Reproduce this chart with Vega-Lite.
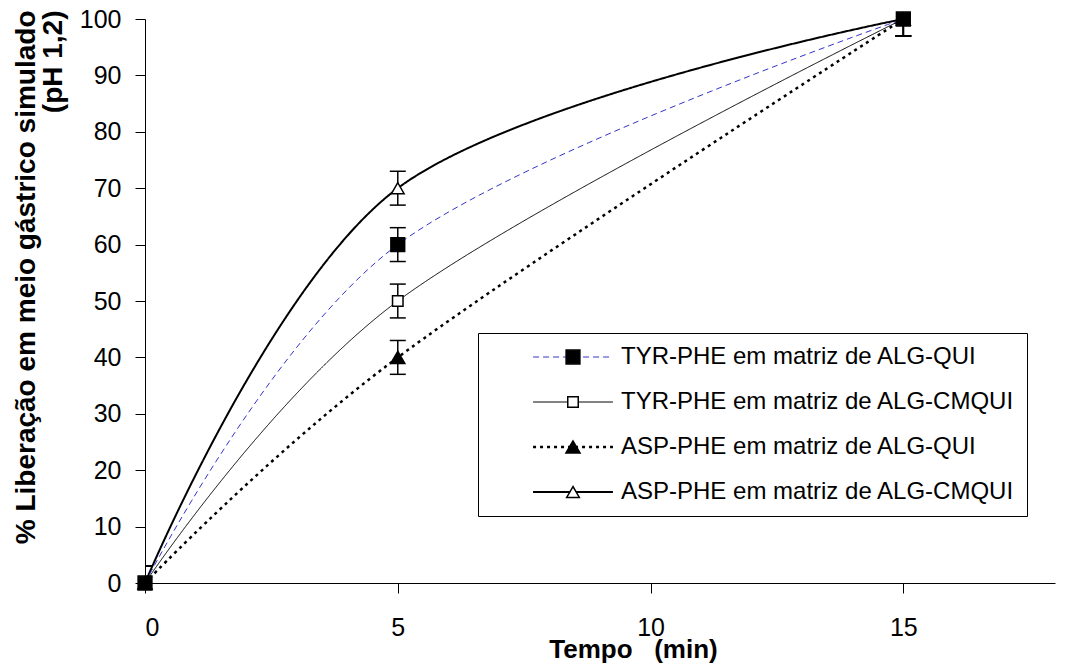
{
  "$schema": "https://vega.github.io/schema/vega-lite/v6.json",
  "width": 910,
  "height": 564,
  "autosize": "none",
  "padding": {"left": 145, "top": 19, "right": 28, "bottom": 84},
  "background": "white",
  "config": {
    "view": {"stroke": null},
    "font": "Liberation Sans",
    "axis": {
      "grid": false,
      "domainColor": "black",
      "domainWidth": 1,
      "tickColor": "black",
      "tickWidth": 1,
      "tickSize": 10,
      "labelColor": "black",
      "titleColor": "black",
      "labelFont": "Liberation Sans",
      "titleFont": "Liberation Sans",
      "labelFontSize": 25,
      "titleFontSize": 26,
      "titleFontWeight": "bold"
    }
  },
  "data": {
    "values": [
      {"series": "ASP-PHE em matriz de ALG-CMQUI", "t": 0, "y": 0, "lo": -3, "hi": 3},
      {"series": "ASP-PHE em matriz de ALG-CMQUI", "t": 5, "y": 70, "lo": 67, "hi": 73},
      {"series": "ASP-PHE em matriz de ALG-CMQUI", "t": 15, "y": 100, "lo": 97, "hi": 103},
      {"series": "ASP-PHE em matriz de ALG-QUI", "t": 0, "y": 0, "lo": -3, "hi": 3},
      {"series": "ASP-PHE em matriz de ALG-QUI", "t": 5, "y": 40, "lo": 37, "hi": 43},
      {"series": "ASP-PHE em matriz de ALG-QUI", "t": 15, "y": 100, "lo": 97, "hi": 103},
      {"series": "TYR-PHE em matriz de ALG-CMQUI", "t": 0, "y": 0, "lo": -3, "hi": 3},
      {"series": "TYR-PHE em matriz de ALG-CMQUI", "t": 5, "y": 50, "lo": 47, "hi": 53},
      {"series": "TYR-PHE em matriz de ALG-CMQUI", "t": 15, "y": 100, "lo": 97, "hi": 103},
      {"series": "TYR-PHE em matriz de ALG-QUI", "t": 0, "y": 0, "lo": -3, "hi": 3},
      {"series": "TYR-PHE em matriz de ALG-QUI", "t": 5, "y": 60, "lo": 57, "hi": 63},
      {"series": "TYR-PHE em matriz de ALG-QUI", "t": 15, "y": 100, "lo": 97, "hi": 103}
    ]
  },
  "layer": [
    {
      "mark": {"type": "line", "interpolate": "cardinal", "clip": true},
      "encoding": {
        "x": {
          "field": "t", "type": "quantitative",
          "scale": {"domain": [0, 18], "nice": false},
          "axis": {
            "values": [0, 5, 10, 15],
            "labelPadding": 22,
            "title": "Tempo\u00a0\u00a0\u00a0(min)",
            "titleX": 488,
            "titleY": 74,
            "titleBaseline": "alphabetic",
            "titleAnchor": "start",
            "titleAlign": "center"
          }
        },
        "y": {
          "field": "y", "type": "quantitative",
          "scale": {"domain": [0, 100], "nice": false},
          "axis": {
            "values": [0, 10, 20, 30, 40, 50, 60, 70, 80, 90, 100],
            "labelPadding": 14,
            "title": ["% Liberação em meio gástrico simulado", "(pH 1,2)"],
            "titleFontSize": 28,
            "titleAngle": -90,
            "titleAlign": "right",
            "titleBaseline": "alphabetic",
            "titleLineHeight": 27,
            "titleX": -111,
            "titleY": -9
          }
        },
        "detail": {"field": "series", "type": "nominal"},
        "color": {
          "field": "series", "type": "nominal",
          "scale": {
            "domain": ["TYR-PHE em matriz de ALG-QUI", "TYR-PHE em matriz de ALG-CMQUI", "ASP-PHE em matriz de ALG-QUI", "ASP-PHE em matriz de ALG-CMQUI"],
            "range": ["#3333CC", "black", "black", "black"]
          },
          "legend": {
            "title": null, "orient": "none", "legendX": 333, "legendY": 314,
            "padding": 12, "symbolType": "M-4.7,0H4.7", "symbolSize": 289,
            "symbolOffset": 71, "labelOffset": 36, "rowPadding": 21,
            "strokeColor": "black", "fillColor": "white", "cornerRadius": 0,
            "labelFontSize": 24, "labelFont": "Liberation Sans", "labelColor": "black", "labelLimit": 600
          }
        },
        "strokeDash": {
          "field": "series", "type": "nominal",
          "scale": {
            "domain": ["TYR-PHE em matriz de ALG-QUI", "TYR-PHE em matriz de ALG-CMQUI", "ASP-PHE em matriz de ALG-QUI", "ASP-PHE em matriz de ALG-CMQUI"],
            "range": [[6, 4], [1, 0], [3, 4], [1, 0]]
          },
          "legend": {
            "title": null, "orient": "none", "legendX": 333, "legendY": 314,
            "padding": 12, "symbolType": "M-4.7,0H4.7", "symbolSize": 289,
            "symbolOffset": 71, "labelOffset": 36, "rowPadding": 21,
            "strokeColor": "black", "fillColor": "white", "cornerRadius": 0,
            "labelFontSize": 24, "labelFont": "Liberation Sans", "labelColor": "black", "labelLimit": 600
          }
        },
        "strokeWidth": {
          "field": "series", "type": "nominal",
          "scale": {
            "type": "ordinal",
            "domain": ["TYR-PHE em matriz de ALG-QUI", "TYR-PHE em matriz de ALG-CMQUI", "ASP-PHE em matriz de ALG-QUI", "ASP-PHE em matriz de ALG-CMQUI"],
            "range": [1, 1, 2.5, 2]
          },
          "legend": {
            "title": null, "orient": "none", "legendX": 333, "legendY": 314,
            "padding": 12, "symbolType": "M-4.7,0H4.7", "symbolSize": 289,
            "symbolOffset": 71, "labelOffset": 36, "rowPadding": 21,
            "strokeColor": "black", "fillColor": "white", "cornerRadius": 0,
            "labelFontSize": 24, "labelFont": "Liberation Sans", "labelColor": "black", "labelLimit": 600
          }
        }
      }
    },
    {
      "mark": {"type": "rule", "color": "black", "strokeWidth": 1.5, "clip": true},
      "encoding": {
        "x": {"field": "t", "type": "quantitative"},
        "y": {"field": "lo", "type": "quantitative"},
        "y2": {"field": "hi"}
      }
    },
    {
      "mark": {"type": "tick", "orient": "horizontal", "color": "black", "size": 16, "thickness": 1.5, "clip": true, "opacity": 1},
      "encoding": {
        "x": {"field": "t", "type": "quantitative"},
        "y": {"field": "lo", "type": "quantitative"}
      }
    },
    {
      "mark": {"type": "tick", "orient": "horizontal", "color": "black", "size": 16, "thickness": 1.5, "clip": true, "opacity": 1},
      "encoding": {
        "x": {"field": "t", "type": "quantitative"},
        "y": {"field": "hi", "type": "quantitative"}
      }
    },
    {
      "mark": {"type": "point", "filled": true, "strokeWidth": 1.5, "opacity": 1},
      "encoding": {
        "x": {"field": "t", "type": "quantitative"},
        "y": {"field": "y", "type": "quantitative"},
        "shape": {
          "field": "series", "type": "nominal",
          "scale": {
            "domain": ["TYR-PHE em matriz de ALG-QUI", "TYR-PHE em matriz de ALG-CMQUI", "ASP-PHE em matriz de ALG-QUI", "ASP-PHE em matriz de ALG-CMQUI"],
            "range": ["square", "square", "triangle-up", "triangle-up"]
          },
          "legend": {
            "title": null, "orient": "none", "legendX": 333, "legendY": 314,
            "padding": 12, "symbolOffset": 71, "labelOffset": 36, "rowPadding": 21,
            "strokeColor": null, "fillColor": null, "labelOpacity": 0,
            "symbolStrokeWidth": 1.5,
            "labelFontSize": 24, "labelFont": "Liberation Sans", "labelLimit": 600
          }
        },
        "fill": {
          "field": "series", "type": "nominal",
          "scale": {
            "domain": ["TYR-PHE em matriz de ALG-QUI", "TYR-PHE em matriz de ALG-CMQUI", "ASP-PHE em matriz de ALG-QUI", "ASP-PHE em matriz de ALG-CMQUI"],
            "range": ["black", "white", "black", "white"]
          },
          "legend": {
            "title": null, "orient": "none", "legendX": 333, "legendY": 314,
            "padding": 12, "symbolOffset": 71, "labelOffset": 36, "rowPadding": 21,
            "strokeColor": null, "fillColor": null, "labelOpacity": 0,
            "symbolStrokeWidth": 1.5,
            "labelFontSize": 24, "labelFont": "Liberation Sans", "labelLimit": 600
          }
        },
        "stroke": {
          "field": "series", "type": "nominal",
          "scale": {
            "domain": ["TYR-PHE em matriz de ALG-QUI", "TYR-PHE em matriz de ALG-CMQUI", "ASP-PHE em matriz de ALG-QUI", "ASP-PHE em matriz de ALG-CMQUI"],
            "range": ["black", "black", "black", "black"]
          },
          "legend": {
            "title": null, "orient": "none", "legendX": 333, "legendY": 314,
            "padding": 12, "symbolOffset": 71, "labelOffset": 36, "rowPadding": 21,
            "strokeColor": null, "fillColor": null, "labelOpacity": 0,
            "symbolStrokeWidth": 1.5,
            "labelFontSize": 24, "labelFont": "Liberation Sans", "labelLimit": 600
          }
        },
        "size": {
          "field": "series", "type": "nominal",
          "scale": {
            "type": "ordinal",
            "domain": ["TYR-PHE em matriz de ALG-QUI", "TYR-PHE em matriz de ALG-CMQUI", "ASP-PHE em matriz de ALG-QUI", "ASP-PHE em matriz de ALG-CMQUI"],
            "range": [190, 110, 200, 160]
          },
          "legend": {
            "title": null, "orient": "none", "legendX": 333, "legendY": 314,
            "padding": 12, "symbolOffset": 71, "labelOffset": 36, "rowPadding": 21,
            "strokeColor": null, "fillColor": null, "labelOpacity": 0,
            "symbolStrokeWidth": 1.5,
            "labelFontSize": 24, "labelFont": "Liberation Sans", "labelLimit": 600
          }
        }
      }
    }
  ],
  "resolve": {"legend": {"shape": "independent", "fill": "independent", "stroke": "independent", "size": "independent"}}
}
